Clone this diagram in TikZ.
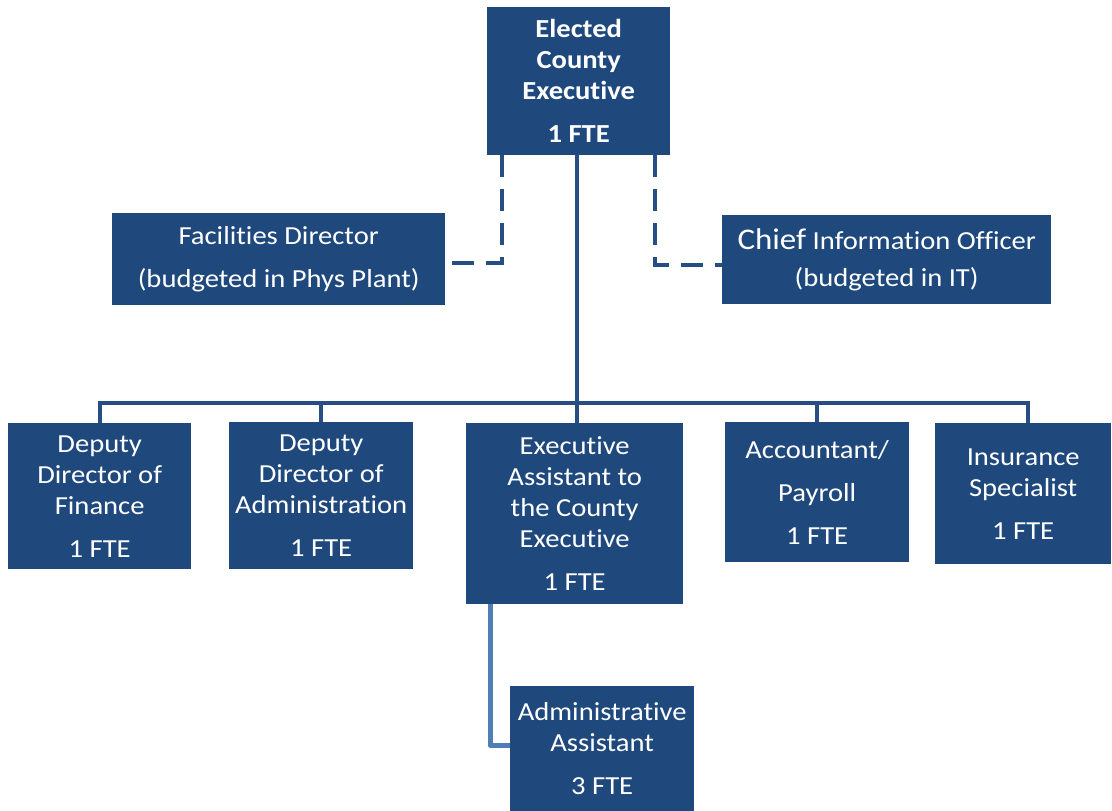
\documentclass[tikz,border=0pt]{standalone}
\usepackage{fontspec}
\setmainfont{Carlito}[FakeStretch=1.1, Ligatures=NoCommon]
\definecolor{boxblue}{RGB}{31,73,125}
\definecolor{linedark}{RGB}{38,78,130}
\definecolor{linelight}{RGB}{79,125,182}
\begin{document}
\begin{tikzpicture}[x=1pt,y=-1pt,
  box/.style={fill=boxblue, text=white, inner sep=0pt, anchor=north west, align=center,
    font=\fontsize{26}{31}\selectfont},
  conn/.style={draw=linedark, line width=4pt},
  connlight/.style={draw=linelight, line width=5pt},
  dashconn/.style={draw=linedark, line width=4pt, dash pattern=on 22pt off 12pt}]
\useasboundingbox (0,0) rectangle (1112,811);

\node[box, minimum width=183pt, minimum height=148pt, font=\fontsize{26}{31}\selectfont\bfseries] (top) at (487,7)
  {Elected\\County\\Executive\\[12pt]1 FTE};
\node[box, minimum width=333pt, minimum height=92pt] (fac) at (112,213)
  {Facilities Director\\[12pt](budgeted in Phys Plant)};
\node[box, minimum width=329pt, minimum height=89pt] (cio) at (722,215)
  {{\fontsize{30}{31}\selectfont Chief} Information Officer\\[6pt](budgeted in IT)};

\node[box, minimum width=183pt, minimum height=146pt] (dfin) at (8,423)
  {Deputy\\Director of\\Finance\\[12pt]1 FTE};
\node[box, minimum width=184pt, minimum height=147pt] (dadm) at (229,422)
  {Deputy\\Director of\\Administration\\[12pt]1 FTE};
\node[box, minimum width=217pt, minimum height=181pt] (ea) at (466,423)
  {Executive\\Assistant to\\the County\\Executive\\[12pt]1 FTE};
\node[box, minimum width=184pt, minimum height=140pt] (acc) at (725,422)
  {Accountant/\\[12pt]Payroll\\[12pt]1 FTE};
\node[box, minimum width=176pt, minimum height=141pt] (ins) at (935,423)
  {Insurance\\Specialist\\[12pt]1 FTE};
\node[box, minimum width=184pt, minimum height=125pt] (aa) at (510,686)
  {Administrative\\Assistant\\[12pt]3 FTE};

\coordinate (busc) at (577,403);
\coordinate (insdrop) at (1028,403);
\draw[conn] (top.south -| busc) -- (busc);
\draw[conn] (dfin.north) -- (dfin.north |- busc) -- (insdrop) -- (insdrop |- ins.north);
\draw[conn] (dadm.north) -- (dadm.north |- busc);
\draw[conn] (busc) -- (busc |- ea.north);
\draw[conn] (acc.north) -- (acc.north |- busc);

\coordinate (aaturn) at (490,745);
\draw[connlight, line join=round] (aaturn |- ea.south) -- (aaturn) -- (aaturn -| aa.west);

\coordinate (dl) at (502,263);
\coordinate (dr) at (655,265);
\draw[dashconn] (dl |- top.south) -- (dl) -- (dl -| fac.east);
\draw[dashconn] (dr |- top.south) -- (dr) -- (dr -| cio.west);
\end{tikzpicture}
\end{document}
